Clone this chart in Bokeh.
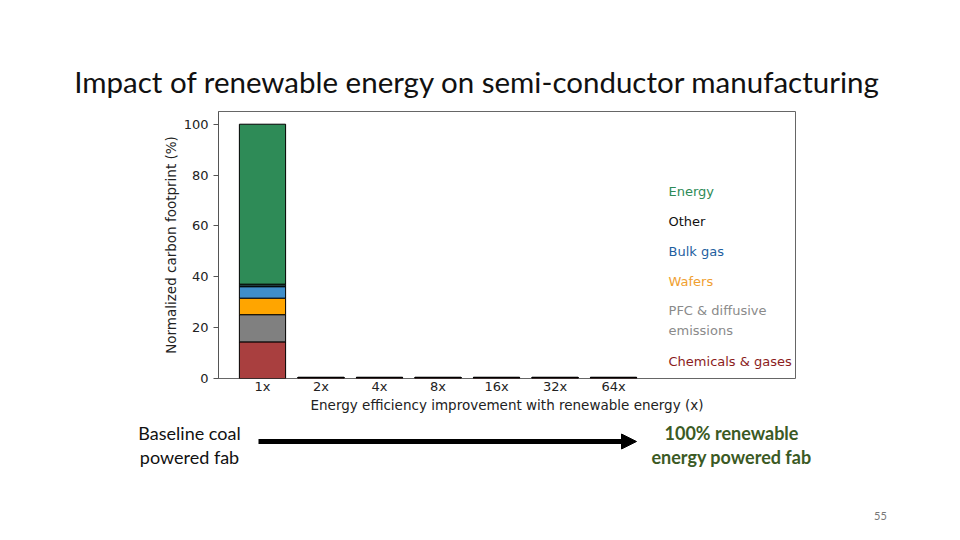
from bokeh.plotting import figure
from bokeh.layouts import column
from bokeh.core.properties import value
from bokeh.models import ColumnDataSource, FixedTicker, Label, Arrow, NormalHead, Range1d
from bokeh.embed import file_html
from bokeh.resources import INLINE

# chart data
steps = ["1x", "2x", "4x", "8x", "16x", "32x", "64x"]
chemicals = [14.4, 0.4, 0.4, 0.4, 0.4, 0.4, 0.4]
pfc = [10.7, 0, 0, 0, 0, 0, 0]
wafers = [6.5, 0, 0, 0, 0, 0, 0]
bulk_gas = [4.5, 0, 0, 0, 0, 0, 0]
other = [1.0, 0, 0, 0, 0, 0, 0]
energy = [62.9, 0, 0, 0, 0, 0, 0]

series = ["chemicals", "pfc", "wafers", "bulk_gas", "other", "energy"]
bar_colors = ["#a93f3f", "#808080", "#ffa500", "#3f8ec9", "#1d3b3b", "#2e8b57"]
legend_names = ["Chemicals & gases", "PFC & diffusive\nemissions", "Wafers",
                "Bulk gas", "Other", "Energy"]
legend_colors = ["#8b1c1c", "#8a8a8a", "#f0a030", "#1f5f9f", "#111111", "#2e8b57"]
legend_y = [6.7, 22.9, 38.2, 50.0, 61.8, 73.6]

W = 960
CHART_FONT = "DejaVu Sans"


def blank(height, y_top):
    # helper figure used for the slide title and footer (no axes)
    f = figure(width=W, height=height, x_range=Range1d(0, W),
               y_range=Range1d(y_top + height, y_top),
               output_backend="svg", toolbar_location=None,
               x_axis_location=None, y_axis_location=None,
               min_border=0, frame_align=False)
    f.outline_line_color = None
    f.grid.visible = False
    return f


# --- title row ---
head = blank(109, 0)
head.text(x=[477], y=[81], text=["Impact of renewable energy on semi-conductor manufacturing"],
          text_font=value("Lato"), text_font_size="29.5px", text_color="#111111",
          text_align="center", text_baseline="middle")

# --- chart ---
source = ColumnDataSource(data=dict(
    x=list(range(len(steps))), chemicals=chemicals, pfc=pfc, wafers=wafers,
    bulk_gas=bulk_gas, other=other, energy=energy))

p = figure(width=W, height=306, x_range=(-0.752, 9.11), y_range=(0, 105),
           output_backend="svg", toolbar_location=None,
           min_border_left=218, min_border_right=165,
           min_border_top=2, min_border_bottom=37, frame_align=False)
p.outline_line_color = "#666666"
p.grid.visible = False

p.vbar_stack(series, x="x", width=0.79, source=source, color=bar_colors,
             line_color="black", line_width=1)

# in-chart legend text
for name, col, yy in zip(legend_names, legend_colors, legend_y):
    p.add_layout(Label(x=6.94, y=yy, text=name, text_color=col,
                       text_font=CHART_FONT, text_font_size="13px",
                       text_baseline="middle", text_line_height=1.35))

# axes
p.xaxis.ticker = FixedTicker(ticks=list(range(len(steps))))
p.xaxis.major_label_overrides = {i: s for i, s in enumerate(steps)}
p.xaxis.axis_line_color = None
p.xaxis.major_tick_line_color = None
p.xaxis.minor_tick_line_color = None
p.xaxis.major_tick_out = 0
p.xaxis.major_tick_in = 0
p.xaxis.major_label_standoff = 0
p.xaxis.axis_label = "Energy efficiency improvement with renewable energy (x)"
p.xaxis.axis_label_standoff = 0
p.yaxis.ticker = FixedTicker(ticks=[0, 20, 40, 60, 80, 100])
p.yaxis.minor_tick_line_color = None
p.yaxis.major_tick_in = 0
p.yaxis.major_tick_out = 5
p.yaxis.axis_line_color = "#555555"
p.yaxis.major_tick_line_color = "#555555"
p.yaxis.axis_label = "Normalized carbon footprint (%)"
p.yaxis.axis_label_standoff = 2
for ax in (p.xaxis, p.yaxis):
    ax.major_label_text_font = CHART_FONT
    ax.major_label_text_font_size = "13px"
    ax.major_label_text_color = "#222222"
    ax.axis_label_text_font = CHART_FONT
    ax.axis_label_text_font_size = "13.5px"
    ax.axis_label_text_font_style = "normal"
    ax.axis_label_text_color = "#222222"

# --- footer row ---
foot = blank(125, 415)
foot.text(x=[189, 189], y=[432, 456], text=["Baseline coal", "powered fab"],
          text_font=value("Lato"), text_font_size="18px", text_color="#111111",
          text_align="center", text_baseline="middle")
foot.text(x=[731, 731], y=[432, 456], text=["100% renewable", "energy powered fab"],
          text_font=value("Lato"), text_font_size="18px", text_color="#3b5a24",
          text_font_style="bold", text_align="center", text_baseline="middle")
foot.add_layout(Arrow(x_start=258, y_start=441, x_end=636, y_end=441,
                      line_width=5, line_color="black",
                      end=NormalHead(size=15, fill_color="black", line_color="black")))
foot.text(x=[880], y=[515], text=["55"], text_font=value("Lato"),
          text_font_size="11px", text_color="#777777",
          text_align="center", text_baseline="middle")

layout = column(head, p, foot, spacing=0)
open("out.html", "w").write(file_html(layout, INLINE))
